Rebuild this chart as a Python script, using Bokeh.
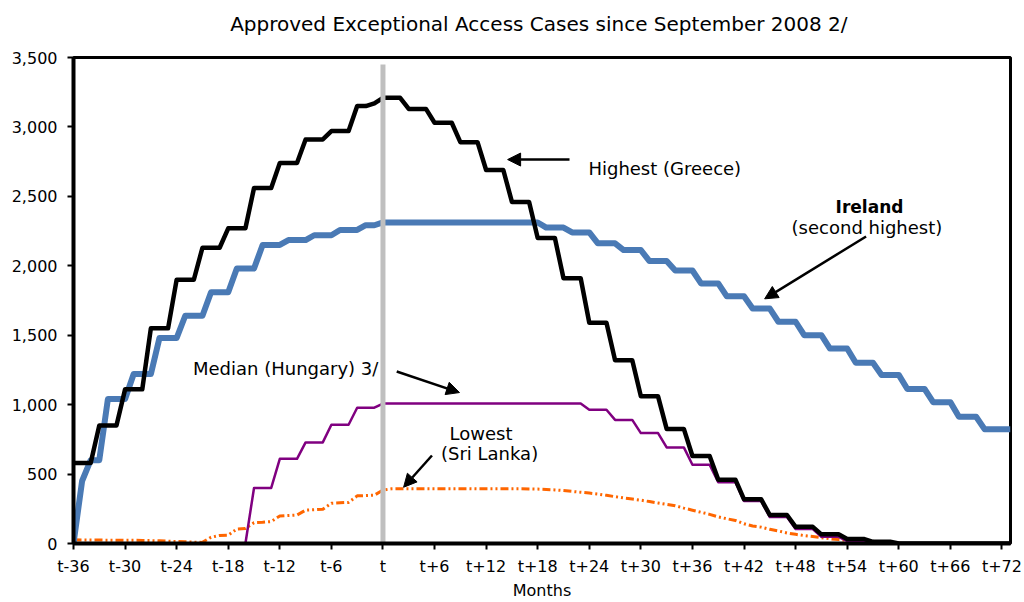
from bokeh.plotting import figure
from bokeh.models import (Range1d, FixedTicker, NumeralTickFormatter, Label, LinearAxis,
                          Arrow, NormalHead, ColumnDataSource)
from bokeh.embed import file_html
from bokeh.resources import INLINE

# ---------------- data ----------------
# month index relative to t (t-36 ... t+73)
months = list(range(-36, 74))

tick_positions = [-36, -30, -24, -18, -12, -6, 0, 6, 12, 18, 24, 30, 36, 42, 48, 54, 60, 66, 72]
tick_labels = ["t-36", "t-30", "t-24", "t-18", "t-12", "t-6", "t", "t+6", "t+12", "t+18",
               "t+24", "t+30", "t+36", "t+42", "t+48", "t+54", "t+60", "t+66", "t+72"]
y_ticks = [0, 500, 1000, 1500, 2000, 2500, 3000, 3500]

greece = [
    580, 580, 580, 850, 850, 850, 1110, 1110, 1110, 1550, 1550, 1550,
    1900, 1900, 1900, 2130, 2130, 2130, 2270, 2270, 2270, 2560, 2560, 2560,
    2740, 2740, 2740, 2910, 2910, 2910, 2970, 2970, 2970, 3150, 3150, 3170,
    3210, 3210, 3210, 3130, 3130, 3130, 3030, 3030, 3030, 2890, 2890, 2890,
    2690, 2690, 2690, 2460, 2460, 2460, 2200, 2200, 2200, 1910, 1910, 1910,
    1590, 1590, 1590, 1320, 1320, 1320, 1060, 1060, 1060, 825, 825, 825,
    630, 630, 630, 460, 460, 460, 318, 318, 318, 205, 205, 205,
    120, 120, 120, 66, 66, 66, 32, 32, 32, 12, 12, 12,
    0, 0, 0, 0, 0, 0, 0, 0, 0, 0, 0, 0, 0, 0,
]

ireland = [
    0, 450, 600, 600, 1040, 1040, 1040, 1220, 1220, 1220, 1480, 1480, 1480,
    1640, 1640, 1640, 1810, 1810, 1810, 1980, 1980, 1980, 2150, 2150, 2150,
    2185, 2185, 2185, 2220, 2220, 2220, 2258, 2258, 2258, 2292, 2292,
    2312, 2312, 2312, 2312, 2312, 2312, 2312, 2312, 2312, 2312, 2312, 2312,
    2312, 2312, 2312, 2312, 2312, 2312, 2312,
    2275, 2275, 2275, 2240, 2240, 2240, 2162, 2162, 2162, 2113, 2113, 2113,
    2034, 2034, 2034, 1966, 1966, 1966, 1873, 1873, 1873, 1780, 1780, 1780,
    1692, 1692, 1692, 1597, 1597, 1597, 1500, 1500, 1500, 1404, 1404, 1404,
    1302, 1302, 1302, 1214, 1214, 1214, 1113, 1113, 1113, 1018, 1018, 1018,
    913, 913, 913, 822, 822, 822, 822,
]

hungary = [
    0, 0, 0, 0, 0, 0, 0, 0, 0, 0, 0, 0, 0, 0, 0, 0, 0, 0, 0, 0, 0,
    400, 400, 400, 610, 610, 610, 728, 728, 728, 855, 855, 855, 978, 978, 978,
    1008, 1008, 1008, 1008, 1008, 1008, 1008, 1008, 1008, 1008, 1008, 1008,
    1008, 1008, 1008, 1008, 1008, 1008, 1008, 1008, 1008, 1008, 1008, 1008,
    963, 963, 963, 890, 890, 890, 795, 795, 795, 692, 692, 692,
    567, 567, 567, 442, 442, 442, 306, 306, 306, 190, 190, 190,
    104, 104, 104, 48, 48, 48, 18, 18, 18, 5, 5, 5,
    0, 0, 0, 0, 0, 0, 0, 0, 0, 0, 0, 0, 0, 0,
]

sri_lanka = [
    27, 26, 25, 25, 24, 24, 23, 23, 22, 21, 19, 17, 14, 12, 10, 8,
    45, 58, 60, 104, 108, 150, 153, 158, 198, 202, 205, 240, 243, 247, 290, 293, 296, 343, 345, 348,
    385, 394, 395, 395, 395, 395, 395, 395, 395, 395, 395, 394, 394, 394, 394, 394, 394, 393, 392,
    389, 386, 381, 375, 369, 363, 356, 347, 337, 328, 320, 312, 302, 292, 282, 272, 255, 240, 225, 210, 192, 178,
    166, 142, 126, 118, 102, 90, 76, 66, 57, 50, 42, 34, 28, 22, 15, 10, 6, 3, 2, 1,
    0, 0, 0, 0, 0, 0, 0, 0, 0, 0, 0, 0, 0,
]

title_text = "Approved Exceptional Access Cases since September 2008  2/"
event_month = 0          # the "t" marker line
event_line_top = 3450

src = ColumnDataSource(dict(m=months, greece=greece, ireland=ireland,
                            hungary=hungary, sri=sri_lanka))

FONT = "DejaVu Sans"

# ---------------- figure ----------------
p = figure(width=1024, height=602, output_backend="svg", toolbar_location=None,
           x_range=Range1d(-36, 73), y_range=Range1d(0, 3500),
           min_border_left=73, min_border_right=14, min_border_top=57, min_border_bottom=59)
p.title.text = ""
p.background_fill_color = "white"
p.border_fill_color = "white"
p.outline_line_color = "black"
p.outline_line_width = 3
p.xgrid.visible = False
p.ygrid.visible = False

# title drawn as the label of an empty axis above the plot frame
top_axis = LinearAxis(ticker=FixedTicker(ticks=[]), axis_label=title_text,
                      axis_line_color=None, major_tick_line_color=None,
                      minor_tick_line_color=None, major_tick_out=0, major_tick_in=0,
                      major_label_standoff=0, major_label_text_font_size="0px",
                      axis_label_standoff=22, axis_label_text_font=FONT,
                      axis_label_text_font_size="20px", axis_label_text_font_style="normal",
                      axis_label_text_color="black")
p.add_layout(top_axis, "above")

# lines
p.line("m", "sri", source=src, line_color="#FF6600", line_width=3,
       line_dash="8 3 2 3 2 3", line_join="round")
p.line("m", "hungary", source=src, line_color="#800080", line_width=2.5, line_join="round")
p.line("m", "ireland", source=src, line_color="#4A7AB5", line_width=6, line_join="round")
p.line("m", "greece", source=src, line_color="black", line_width=4.5, line_join="round")
p.segment(x0=[event_month], y0=[0], x1=[event_month], y1=[event_line_top],
          line_color="#BFBFBF", line_width=5)

# axes
for ax in (p.below[0], p.left[0]):
    ax.axis_line_color = "black"
    ax.axis_line_width = 4
    ax.major_tick_line_color = "black"
    ax.major_tick_line_width = 2
    ax.major_tick_out = 6
    ax.major_tick_in = 0
    ax.minor_tick_line_color = None
    ax.major_label_text_font = FONT
    ax.major_label_text_font_size = "16px"
    ax.major_label_text_color = "black"

xa = p.below[0]
xa.ticker = FixedTicker(ticks=tick_positions)
xa.major_label_overrides = dict(zip(tick_positions, tick_labels))
xa.major_label_standoff = 7
xa.axis_label = "Months"
xa.axis_label_text_font = FONT
xa.axis_label_text_font_size = "16px"
xa.axis_label_text_font_style = "normal"
xa.axis_label_text_color = "black"
xa.axis_label_standoff = 2

ya = p.left[0]
ya.ticker = FixedTicker(ticks=y_ticks)
ya.formatter = NumeralTickFormatter(format="0,0")
ya.major_label_standoff = 10

# ---------------- annotations ----------------
def add_label(x, y, text, size, align="left", style="normal"):
    p.add_layout(Label(x=x, y=y, text=text, text_font=FONT, text_font_size=size,
                       text_align=align, text_baseline="alphabetic",
                       text_color="black", text_font_style=style))

add_label(23.9, 2698, "Highest (Greece)", "18px", "left")
add_label(56.6, 2422, "Ireland", "17px", "center", "bold")
add_label(56.3, 2276, "(second highest)", "18px", "center")
add_label(-22.1, 1262, "Median (Hungary) 3/", "18px", "left")
add_label(11.4, 790, "Lowest", "18px", "center")
add_label(12.4, 646, "(Sri Lanka)", "18px", "center")

arrows = [
    (21.7, 2765, 14.5, 2765),   # Greece
    (56.2, 2211, 44.4, 1762),   # Ireland
    (1.6, 1239, 8.9, 1087),     # Hungary
    (5.7, 634, 2.4, 405),       # Sri Lanka
]
for xs, ys, xe, ye in arrows:
    p.add_layout(Arrow(end=NormalHead(size=13, fill_color="black", line_color="black", line_width=1),
                       x_start=xs, y_start=ys, x_end=xe, y_end=ye,
                       line_color="black", line_width=2.5))

open("out.html", "w").write(file_html(p, INLINE))
